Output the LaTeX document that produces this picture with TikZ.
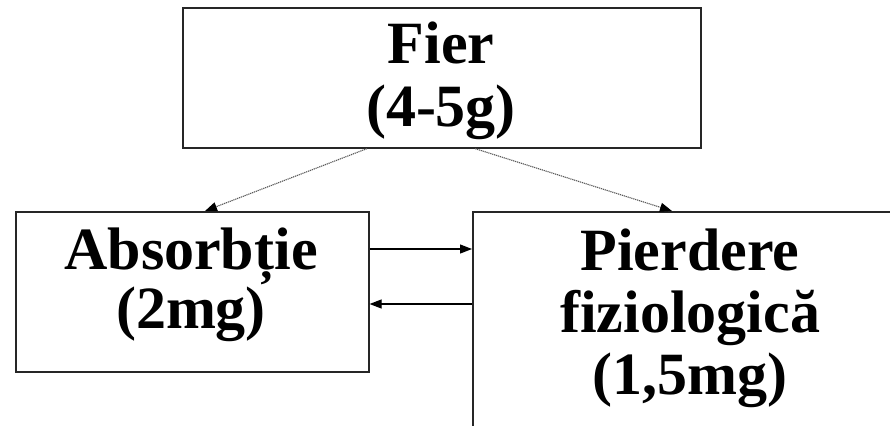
\documentclass[tikz,border=0pt]{standalone}
\usepackage{fontspec}
\setmainfont{Liberation Serif}
\usetikzlibrary{arrows.meta,calc}
\begin{document}
\begin{tikzpicture}[x=1pt,y=-1pt,
  box/.style={draw=black!85,line width=1.6pt,inner sep=0pt,anchor=north west},
  lbl/.style={font=\bfseries\fontsize{60}{63}\selectfont,align=center,inner sep=0pt},
  conn/.style={line width=1.2pt,-{Triangle[length=12pt,width=9pt]}},
  dotconn/.style={draw=black!65,line width=1.1pt,dash pattern=on 1.2pt off 0.8pt,-{Triangle[length=12pt,width=9pt,fill=black,color=black]}}]
\useasboundingbox (0,0) rectangle (890,425);
\clip (0,0) rectangle (890,425);
\fill[white] (0,0) rectangle (890,425);
\node[box,minimum width=518pt,minimum height=140pt] (top) at (182,7) {};
\node[box,minimum width=353pt,minimum height=160pt] (left) at (15,211) {};
\node[box,minimum width=440pt,minimum height=250pt] (right) at (472,211) {};
\node[lbl] (toptext) at (441,81) {Fier\\(4-5g)};
\node[lbl,font=\bfseries\fontsize{60}{59}\selectfont] (lefttext) at (191,285) {Absorbție\\(2mg)};
\node[lbl,font=\bfseries\fontsize{60}{62}\selectfont] (righttext) at (690,318) {Pierdere\\fiziologică\\(1,5mg)};
\draw[dotconn] ($(top.south west)+(185,0)$) -- ($(left.north west)+(190,0)$);
\draw[dotconn] ($(top.south west)+(293,0)$) -- ($(right.north west)+(200,0)$);
\draw[conn] ($(left.north east)+(0,38)$) -- ($(right.north west)+(0,38)$);
\draw[conn] ($(right.north west)+(0,93)$) -- ($(left.north east)+(0,93)$);
\end{tikzpicture}
\end{document}
